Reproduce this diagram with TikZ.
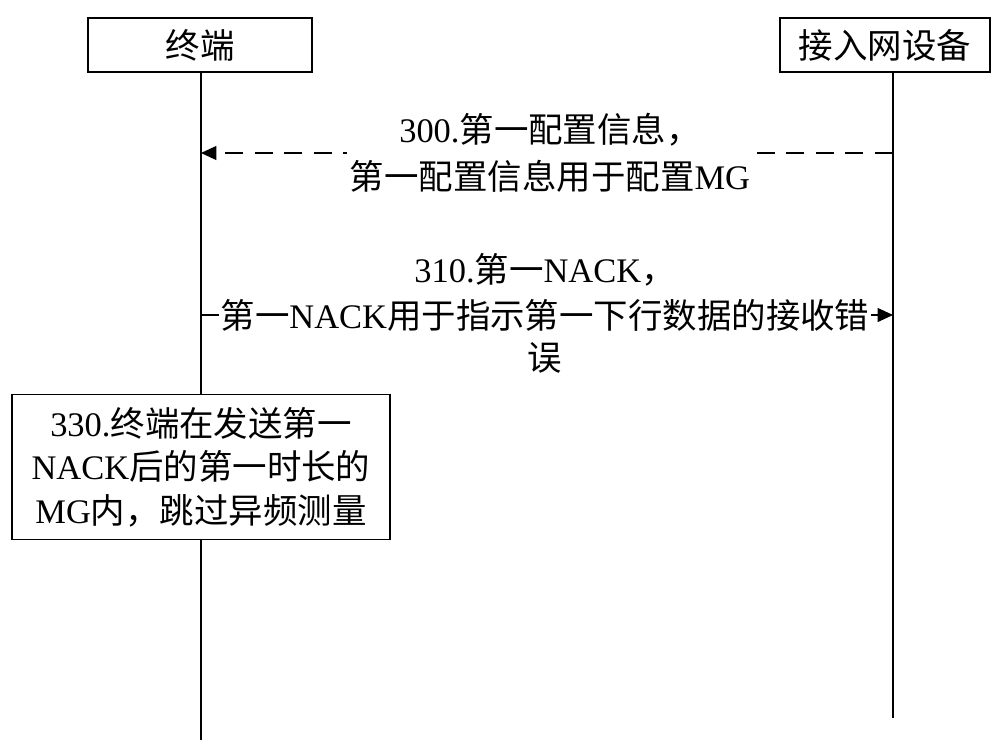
\documentclass[tikz,border=0pt]{standalone}
\usepackage{fontspec}
\setmainfont{Liberation Serif}
\newfontfamily\cjk{Noto Sans CJK SC}
\usetikzlibrary{arrows.meta}
\begin{document}
\begin{tikzpicture}[x=0.025cm,y=-0.025cm,
  every node/.style={font=\fontsize{24.5}{33}\selectfont, inner sep=2pt},
  actor/.style={draw, thick, minimum width=5.5cm, minimum height=1.35cm},
  life/.style={thick},
  msg/.style={thick,-{Triangle[length=11pt,width=10pt]}},
  lbl/.style={fill=white, align=center}]
\useasboundingbox (0,0) rectangle (1000,749);
\node[actor, minimum width=5.6cm] (t) at (200,45) {\cjk 终端};
\node[actor, minimum width=5.25cm] (a) at (885,45) {\cjk 接入网设备};
\coordinate (tb) at (201,740);
\coordinate (ab) at (893,718);
\draw[life] (201,72) -- (tb);
\draw[life] (893,72) -- (ab);
\coordinate (a1) at (893,153); \coordinate (t1) at (201,153);
\draw[msg, dash pattern=on 13pt off 8pt] (a1) -- (t1);
\node[lbl] (m1) at (550,153) {300.{\cjk 第一配置信息，}\\{\cjk 第一配置信息用于配置}MG};
\coordinate (t2) at (201,315); \coordinate (a2) at (893,315);
\draw[msg] (t2) -- (a2);
\node[fill=white, inner sep=1pt] (m2) at (545,315) {{\cjk 第一}NACK{\cjk 用于指示第一下行数据的接收错}};
\node (m2a) at (545,270) {310.{\cjk 第一}NACK{\cjk ，}};
\node (m2b) at (545,358) {\cjk 误};
\node[draw, thick, minimum width=9.45cm, minimum height=3.62cm, align=center, fill=white, font=\fontsize{24.5}{31}\selectfont] (b) at (201,467)
 {330.{\cjk 终端在发送第一}\\NACK{\cjk 后的第一时长的}\\MG{\cjk 内，跳过异频测量}};
\end{tikzpicture}
\end{document}
